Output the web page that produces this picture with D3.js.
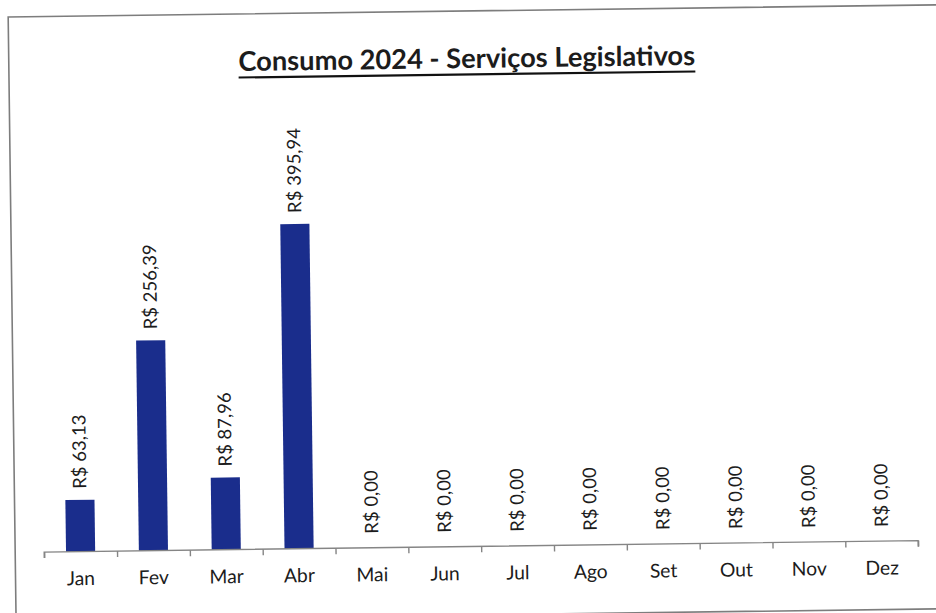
<!DOCTYPE html>
<html>
<head>
<meta charset="utf-8">
<script src="https://cdn.jsdelivr.net/npm/d3@7"></script>
<style>
  html, body { margin: 0; padding: 0; background: #ffffff; overflow: hidden; }
  svg { display: block; }
  text { font-family: Lato, "Open Sans", sans-serif; fill: #1c1c1c; }
</style>
</head>
<body>
<svg id="chart" width="936" height="613"></svg>
<script>
// ---- data ----
const title = "Consumo 2024 - Serviços Legislativos";
const months = ["Jan", "Fev", "Mar", "Abr", "Mai", "Jun", "Jul", "Ago", "Set", "Out", "Nov", "Dez"];
const values = [63.13, 256.39, 87.96, 395.94, 0, 0, 0, 0, 0, 0, 0, 0];
const yDomain = [0, 450];

// ---- layout ----
const W = 936, H = 613;
const axisY = 546.5, left = 41, right = 915;
const barColor = "#1a2d8c";

const locale = d3.formatLocale({ decimal: ",", thousands: ".", grouping: [3], currency: ["R$ ", ""] });
const fmt = locale.format("$,.2f");

const svg = d3.select("#chart");
svg.append("rect").attr("width", W).attr("height", H).attr("fill", "#ffffff");

// whole scanned page is slightly tilted
const g = svg.append("g").attr("transform", "rotate(-0.75, 468, 306)");

// frame (right edge lies outside the picture)
g.append("path")
  .attr("d", "M1000,11H12V615H1000")
  .attr("fill", "none").attr("stroke", "#7d7d7d").attr("stroke-width", 1.6);

// helper: fit font size so that a string has a given width
function fitSize(str, weight, target) {
  const t = g.append("text").attr("font-size", 100).attr("font-weight", weight).text(str);
  const w = t.node().getComputedTextLength();
  t.remove();
  return 100 * target / w;
}

// title
const titleSize = fitSize(title, 700, 457);
const tt = g.append("text")
  .attr("x", 470).attr("y", 68)
  .attr("text-anchor", "middle")
  .attr("font-weight", 700)
  .attr("font-size", titleSize)
  .attr("fill", "#111")
  .text(title);
const tb = tt.node().getBBox();
g.append("line")
  .attr("x1", tb.x).attr("x2", tb.x + tb.width)
  .attr("y1", 74.5).attr("y2", 74.5)
  .attr("stroke", "#111").attr("stroke-width", 2.2);

// scales
const x = d3.scaleBand().domain(months).range([left, right]).paddingInner(0.6).paddingOuter(0.3);
const y = d3.scaleLinear().domain(yDomain).range([axisY, 177.4]);
const slots = d3.scaleLinear().domain([0, months.length]).range([left, right]);

// bars
g.selectAll("rect.bar").data(values).join("rect")
  .attr("class", "bar")
  .attr("x", (d, i) => x(months[i]))
  .attr("width", x.bandwidth())
  .attr("y", d => y(d))
  .attr("height", d => y(0) - y(d))
  .attr("fill", barColor);

// axis line with boundary ticks
const tickAxis = g.append("g").attr("transform", `translate(0,${axisY})`)
  .call(d3.axisBottom(slots).tickValues(d3.range(months.length + 1)).tickSize(6).tickFormat(""));
tickAxis.selectAll("path, line").attr("stroke", "#858585").attr("stroke-width", 1.4);
tickAxis.select(".domain").attr("d", `M${left},6V0H${right}V6`);

// category labels
const catSize = fitSize("Out", 400, 33);
const catAxis = g.append("g").attr("transform", `translate(0,${axisY})`)
  .call(d3.axisBottom(x).tickSize(0).tickPadding(0));
catAxis.select(".domain").remove();
catAxis.selectAll("text")
  .attr("font-size", catSize)
  .attr("font-family", "Lato, 'Open Sans', sans-serif")
  .attr("fill", "#1c1c1c")
  .attr("dy", null)
  .attr("y", 33.5);

// value labels
const valSize = fitSize(fmt(395.94), 400, 85);
g.selectAll("text.val").data(values).join("text")
  .attr("class", "val")
  .attr("transform", (d, i) => `translate(${x(months[i]) + x.bandwidth() / 2},${y(d) - (d > 0 ? 11 : 14)}) rotate(-90)`)
  .attr("text-anchor", "start")
  .attr("dy", "0.35em")
  .attr("font-size", valSize)
  .text(d => fmt(d));
</script>
</body>
</html>
